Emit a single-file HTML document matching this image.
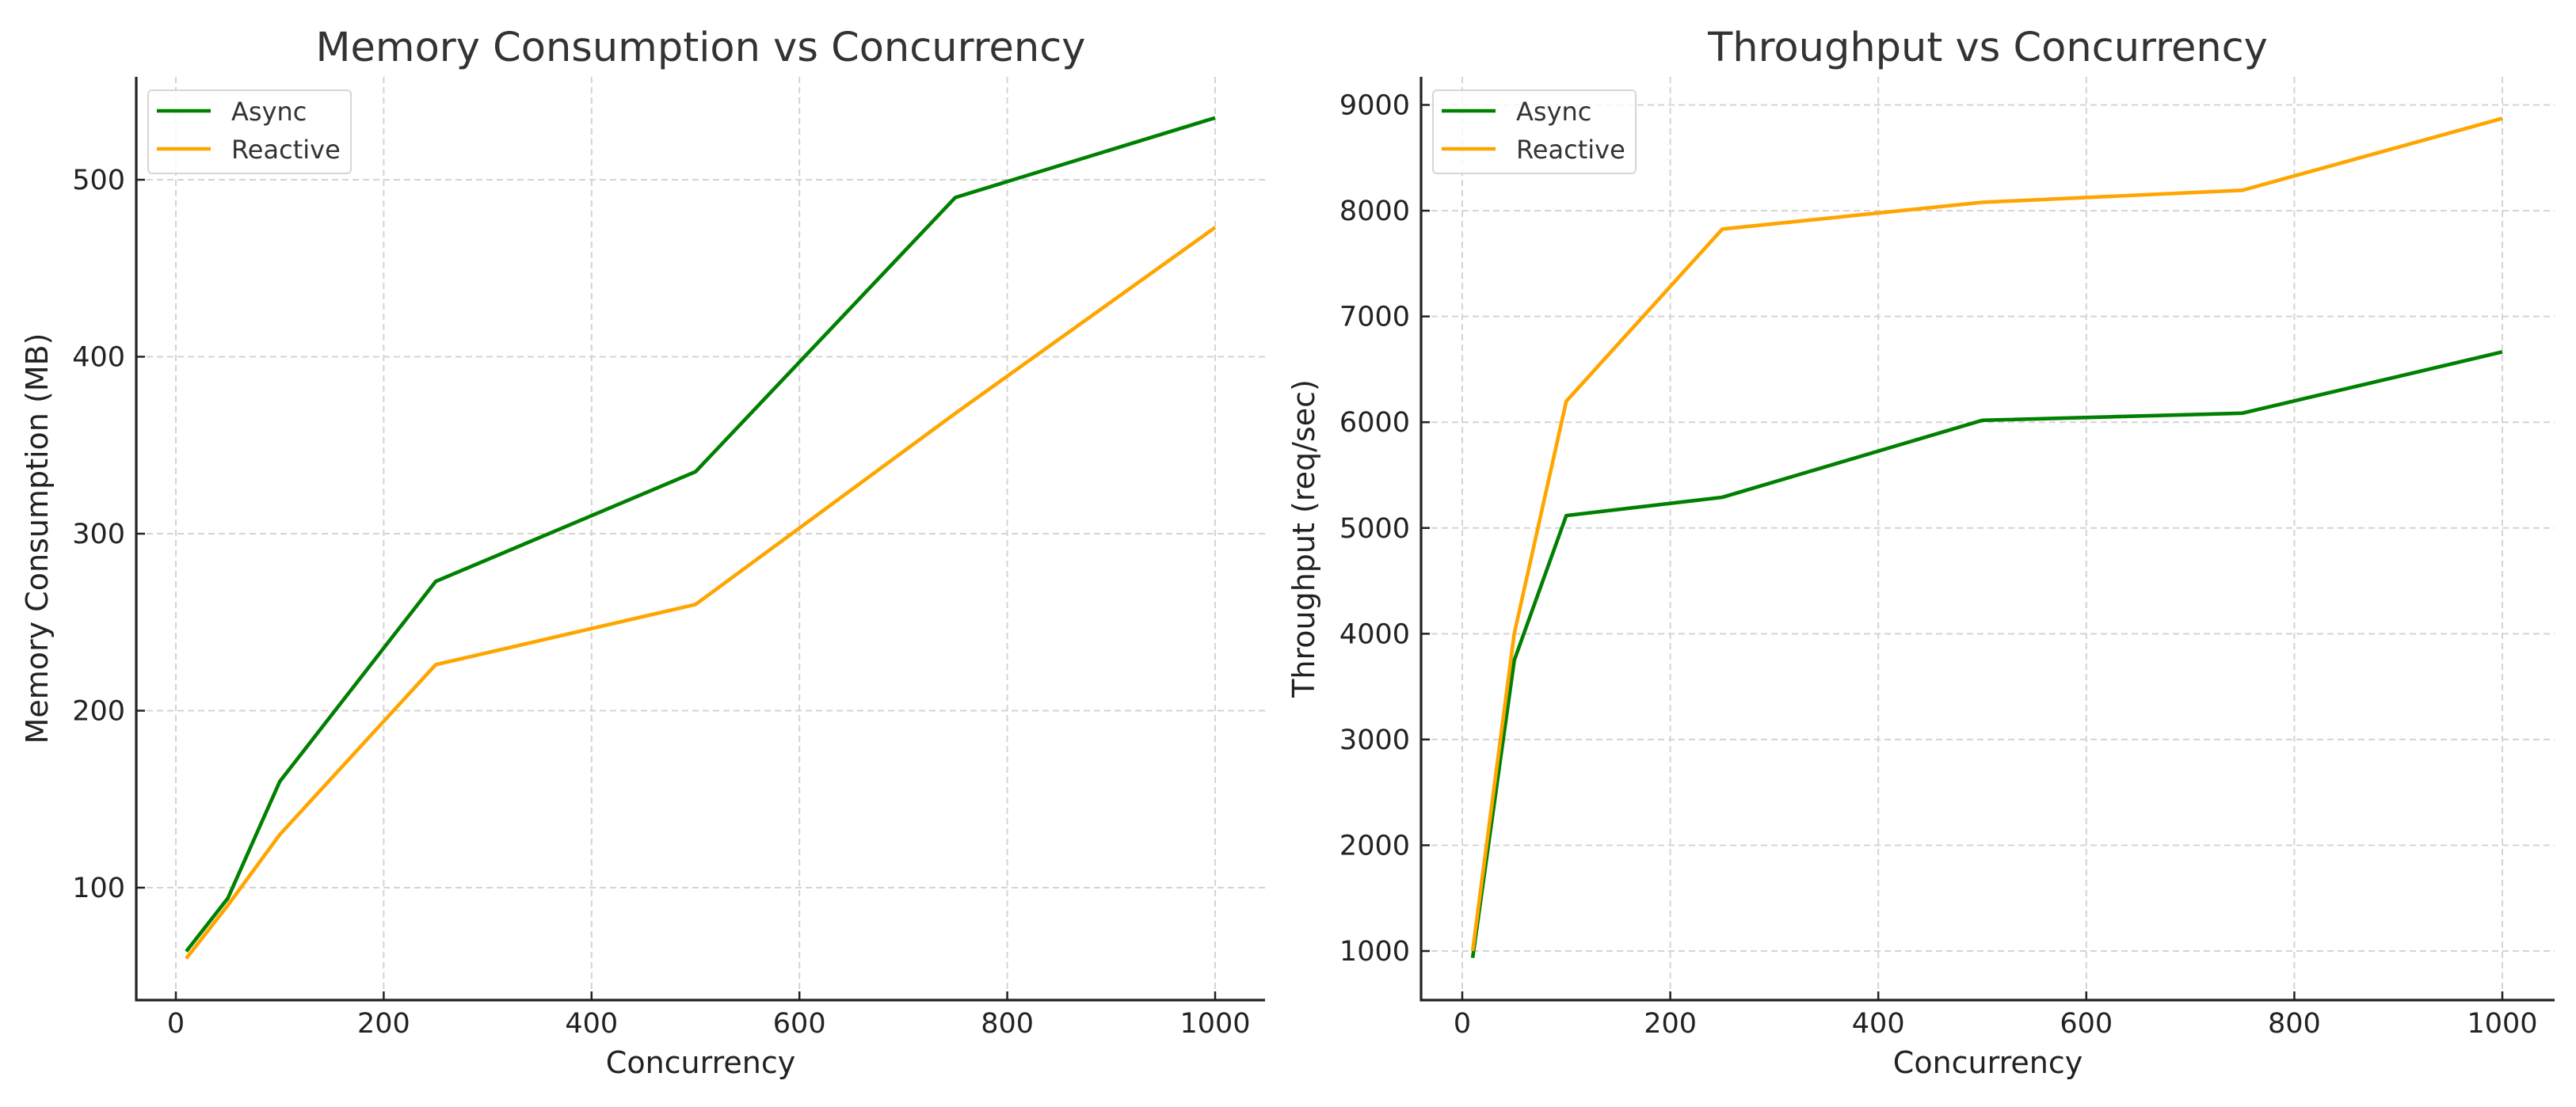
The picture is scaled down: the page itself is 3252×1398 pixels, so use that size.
<!DOCTYPE html>
<html><head><meta charset="utf-8"><style>
html,body{margin:0;padding:0;background:#fff;}
svg{display:block;font-family:"DejaVu Sans","Liberation Sans",sans-serif;}
</style></head><body>
<svg id="fig" width="3252" height="1398" viewBox="0 0 3252 1398"></svg>
<script>
const concurrency = [10, 50, 100, 250, 500, 750, 1000];
const memAsync = [64, 94, 160, 273, 335, 490, 535];
const memReactive = [60, 90, 130, 226, 260, 368, 473];
const tpAsync = [935, 3750, 5117, 5290, 6018, 6085, 6665];
const tpReactive = [1000, 4003, 6198, 7826, 8079, 8193, 8873];
const xTicks = [0, 200, 400, 600, 800, 1000];
const memTicks = [100, 200, 300, 400, 500];
const tpTicks = [1000, 2000, 3000, 4000, 5000, 6000, 7000, 8000, 9000];

const NS = "http://www.w3.org/2000/svg";
const svg = document.getElementById('fig');
function mk(tag, attrs, parent) {
  const e = document.createElementNS(NS, tag);
  for (const k in attrs) e.setAttribute(k, attrs[k]);
  (parent || svg).appendChild(e);
  return e;
}

function drawChart(cfg) {
  const g = mk('g', {});
  
  
  const xs = v => cfg.x0 + (v - 0) * (cfg.x1000 - cfg.x0) / 1000;
  const ys = v => cfg.yA + (v - cfg.vA) * (cfg.yB - cfg.yA) / (cfg.vB - cfg.vA);
  xTicks.forEach(t => {
    const l = mk('line', {x1: xs(t), x2: xs(t), y1: cfg.top, y2: cfg.bottom, stroke: '#d4d4d4', 'stroke-width': 2, 'stroke-dasharray': '8,5'}, g);
    
    
  });
  cfg.yTicks.forEach(t => {
    const l = mk('line', {x1: cfg.left, x2: cfg.right, y1: ys(t), y2: ys(t), stroke: '#d4d4d4', 'stroke-width': 2, 'stroke-dasharray': '8,5'}, g);
    
    
  });
  const series = [[cfg.a, '#008000', 'async-line'], [cfg.r, '#FFA500', 'reactive-line']];
  series.forEach(([vals, col, nm]) => {
    const pts = concurrency.map((c, i) => xs(c).toFixed(1) + ',' + ys(vals[i]).toFixed(1)).join(' ');
    const p = mk('polyline', {points: pts, fill: 'none', stroke: col, 'stroke-width': 4.6, 'stroke-linejoin': 'round'}, g);
    
    
  });
  const sp1 = mk('line', {x1: cfg.left, x2: cfg.left, y1: cfg.top, y2: cfg.bottom + 1.5, stroke: '#222', 'stroke-width': 3.2}, g);
  
  
  const sp2 = mk('line', {x1: cfg.left - 1.5, x2: cfg.right, y1: cfg.bottom, y2: cfg.bottom, stroke: '#222', 'stroke-width': 3.2}, g);
  
  
  xTicks.forEach(t => {
    mk('line', {x1: xs(t), x2: xs(t), y1: cfg.bottom, y2: cfg.bottom - 11, stroke: '#222', 'stroke-width': 2.5}, g);
    const tx = mk('text', {x: xs(t), y: cfg.bottom + 41, 'text-anchor': 'middle', 'font-size': 35, fill: '#222'}, g);
    tx.textContent = t;
    
    
  });
  cfg.yTicks.forEach(t => {
    mk('line', {x1: cfg.left, x2: cfg.left + 11, y1: ys(t), y2: ys(t), stroke: '#222', 'stroke-width': 2.5}, g);
    const tx = mk('text', {x: cfg.left - 14, y: ys(t) + 12, 'text-anchor': 'end', 'font-size': 35, fill: '#222'}, g);
    tx.textContent = t;
    
    
  });
  const ti = mk('text', {x: (cfg.left + cfg.right) / 2, y: 77, 'text-anchor': 'middle', 'font-size': 51, fill: '#333'}, g);
  ti.textContent = cfg.title;
  
  
  const xl = mk('text', {x: (cfg.left + cfg.right) / 2, y: 1355, 'text-anchor': 'middle', 'font-size': 38, fill: '#222'}, g);
  xl.textContent = 'Concurrency';
  
  
  const ym = (cfg.top + cfg.bottom) / 2;
  const yl = mk('text', {x: cfg.ylx, y: ym, 'text-anchor': 'middle', 'font-size': 38, fill: '#222', transform: 'rotate(-90 ' + cfg.ylx + ' ' + ym + ')'}, g);
  yl.textContent = cfg.ylabel;
  
  
  const lg = mk('g', {}, g);
  
  
  const lx = cfg.left + 15;
  mk('rect', {x: lx, y: 114, width: 256, height: 105, rx: 5, fill: 'rgba(255,255,255,0.8)', stroke: '#d6d6d6', 'stroke-width': 2}, lg);
  [['Async', '#008000', 140, 152], ['Reactive', '#FFA500', 188, 200]].forEach(([t, c, ly, by]) => {
    const e = mk('g', {}, lg);
    
    
    mk('line', {x1: lx + 11, x2: lx + 79, y1: ly, y2: ly, stroke: c, 'stroke-width': 4.6}, e);
    const tt = mk('text', {x: lx + 105, y: by, 'font-size': 32, fill: '#333'}, e);
    tt.textContent = t;
  });
}

drawChart({name: 'memory-chart', title: 'Memory Consumption vs Concurrency', ylabel: 'Memory Consumption (MB)',
  left: 172, right: 1597, top: 97, bottom: 1263, x0: 222, x1000: 1534,
  vA: 100, yA: 1121, vB: 500, yB: 227, yTicks: memTicks, a: memAsync, r: memReactive, ylx: 60});
drawChart({name: 'throughput-chart', title: 'Throughput vs Concurrency', ylabel: 'Throughput (req/sec)',
  left: 1794, right: 3225, top: 97, bottom: 1263, x0: 1846, x1000: 3159,
  vA: 1000, yA: 1201, vB: 9000, yB: 132.5, yTicks: tpTicks, a: tpAsync, r: tpReactive, ylx: 1659});
</script>
</body></html>
